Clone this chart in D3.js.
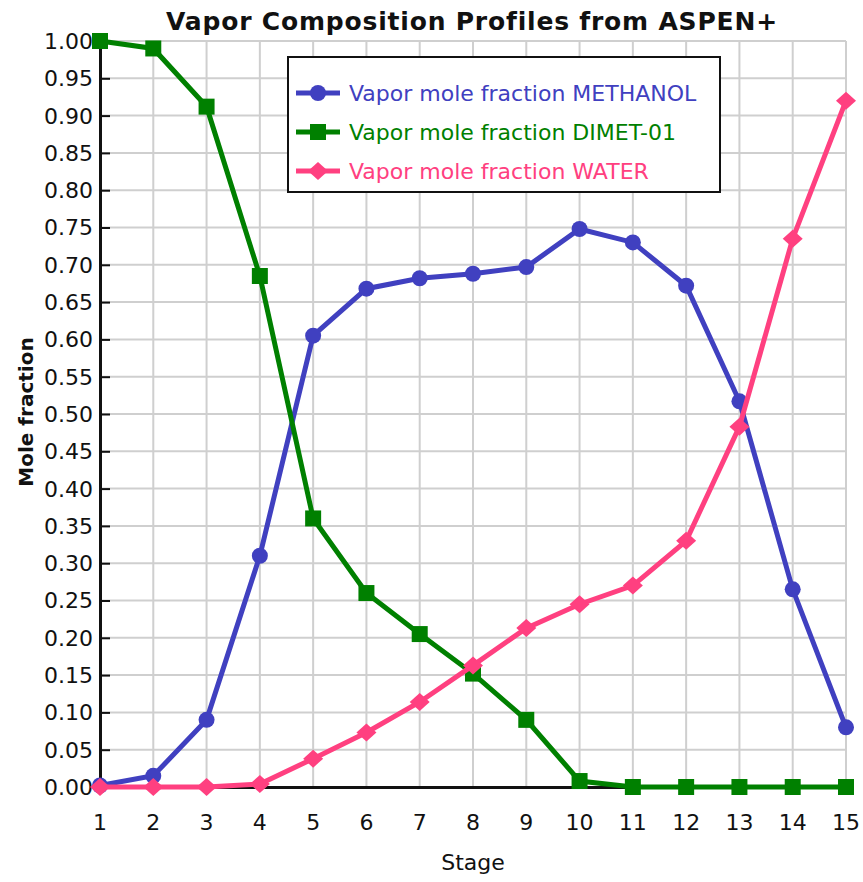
<!DOCTYPE html>
<html lang="en">
<head>
  <meta charset="UTF-8">
  <title>Vapor Composition Profiles</title>
  <script src="https://d3js.org/d3.v7.min.js"></script>
  <style>
    body {
      margin: 0;
      background: #fff;
      font-family: "DejaVu Sans", sans-serif;
    }
    svg { display: block; }
    .grid line { stroke: #cfcfcf; stroke-width: 2; }
    .tick-label { font-size: 22px; fill: #111; }
  </style>
</head>
<body>
<svg width="863" height="882"></svg>
<script>
  const stages = [1, 2, 3, 4, 5, 6, 7, 8, 9, 10, 11, 12, 13, 14, 15];
  const methanol = [0.002, 0.015, 0.09, 0.31, 0.605, 0.668, 0.682, 0.688, 0.697, 0.748, 0.73, 0.672, 0.517, 0.265, 0.08];
  const dimet = [1.0, 0.99, 0.912, 0.685, 0.36, 0.26, 0.205, 0.152, 0.09, 0.008, 0, 0, 0, 0, 0];
  const water = [0, 0, 0, 0.004, 0.038, 0.073, 0.114, 0.163, 0.213, 0.245, 0.27, 0.33, 0.483, 0.735, 0.92];
  const yTicks = d3.range(0, 21).map(i => i * 0.05);

  // marker shapes
  const circle = "M-8,0A8,8 0 1,0 8,0A8,8 0 1,0 -8,0Z";
  const square = "M-8,-8H8V8H-8Z";
  const diamond = "M-10,0L0,-9L10,0L0,9Z";

  const series = [
    { name: "Vapor mole fraction METHANOL", values: methanol, color: "#4040c0", shape: circle },
    { name: "Vapor mole fraction DIMET-01", values: dimet, color: "#008000", shape: square },
    { name: "Vapor mole fraction WATER", values: water, color: "#ff4080", shape: diamond }
  ];

  const svg = d3.select("svg");
  const x = d3.scaleLinear().domain([1, 15]).range([100, 846]);
  const y = d3.scaleLinear().domain([0, 1]).range([787, 41]);

  // grid
  const grid = svg.append("g").attr("class", "grid");
  grid.selectAll(".gx").data(stages).join("line")
      .attr("x1", d => x(d)).attr("x2", d => x(d))
      .attr("y1", y(1)).attr("y2", y(0));
  grid.selectAll(".gy").data(yTicks).join("line")
      .attr("x1", x(1)).attr("x2", x(15))
      .attr("y1", d => y(d)).attr("y2", d => y(d));

  // axes
  const yAxis = svg.append("g").attr("transform", `translate(${x(1)},0)`)
      .call(d3.axisRight(y).tickValues(yTicks).tickSize(10).tickFormat(""));
  yAxis.select(".domain").attr("stroke", "#111").attr("stroke-width", 3);
  yAxis.selectAll(".tick line").attr("stroke", "#111").attr("stroke-width", 2);

  const xAxis = svg.append("g").attr("transform", `translate(0,${y(0)})`)
      .call(d3.axisBottom(x).tickValues(stages).tickSize(0).tickFormat(""));
  xAxis.select(".domain").attr("stroke", "#111").attr("stroke-width", 3);

  svg.append("g").selectAll("text").data(yTicks).join("text")
      .attr("class", "tick-label")
      .attr("x", 93).attr("y", d => y(d)).attr("dy", "0.36em")
      .attr("text-anchor", "end")
      .text(d => d3.format(".2f")(d));

  svg.append("g").selectAll("text").data(stages).join("text")
      .attr("class", "tick-label")
      .attr("x", d => x(d)).attr("y", 830)
      .attr("text-anchor", "middle")
      .text(d => d);

  // lines and markers
  const line = d3.line().x((d, i) => x(stages[i])).y(d => y(d));
  series.forEach(s => {
    svg.append("path")
        .attr("d", line(s.values))
        .attr("fill", "none")
        .attr("stroke", s.color)
        .attr("stroke-width", 5);
    svg.append("g").selectAll("path").data(s.values).join("path")
        .attr("transform", (d, i) => `translate(${x(stages[i])},${y(d)})`)
        .attr("d", s.shape)
        .attr("fill", s.color);
  });

  // legend
  const lg = svg.append("g").attr("transform", "translate(288,57)");
  lg.append("rect").attr("width", 432).attr("height", 135)
      .attr("fill", "#fff").attr("stroke", "#111").attr("stroke-width", 2);
  series.forEach((s, i) => {
    const row = lg.append("g").attr("transform", `translate(0,${36 + i * 39})`);
    row.append("line").attr("x1", 8).attr("x2", 52)
        .attr("stroke", s.color).attr("stroke-width", 5);
    row.append("path").attr("transform", "translate(30,0)")
        .attr("d", s.shape).attr("fill", s.color);
    row.append("text").attr("x", 61).attr("dy", "0.36em")
        .attr("font-size", 22).attr("fill", s.color)
        .text(s.name);
  });

  // titles
  svg.append("text").attr("x", 472).attr("y", 30)
      .attr("text-anchor", "middle").attr("font-size", 25).attr("font-weight", "bold")
      .attr("letter-spacing", 0.8)
      .attr("fill", "#111")
      .text("Vapor Composition Profiles from ASPEN+");
  svg.append("text").attr("x", 473).attr("y", 870)
      .attr("text-anchor", "middle").attr("font-size", 22).attr("fill", "#111")
      .text("Stage");
  svg.append("text")
      .attr("transform", "translate(33,412) rotate(-90)")
      .attr("text-anchor", "middle").attr("font-size", 20).attr("font-weight", "bold")
      .attr("fill", "#111")
      .text("Mole fraction");
</script>
</body>
</html>
